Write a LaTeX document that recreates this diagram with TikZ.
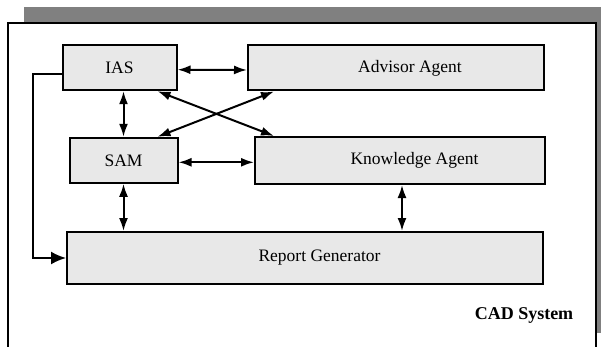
\documentclass[tikz,border=0pt]{standalone}
\usepackage{fontspec}
\setmainfont{Liberation Serif}
\usepackage{tikz}
\usetikzlibrary{calc,arrows.meta}

\definecolor{boxgray}{RGB}{232,232,232}
\definecolor{shadowgray}{RGB}{128,128,128}

\tikzset{
  agent/.style={draw, line width=2pt, fill=boxgray, inner sep=0pt,
    font=\fontsize{17.5}{20}\selectfont},
  link/.style={line width=2pt, {Latex[length=13pt,width=9pt]}-{Latex[length=13pt,width=9pt]}},
}

\begin{document}
\begin{tikzpicture}[x=1pt,y=-1pt]
                      \useasboundingbox (0,0) rectangle (601,347);
                      \clip (0,0) rectangle (601,347);
                      % frame of the system
                      \fill [shadowgray] (24,7) rectangle (601,333);
                      \draw [line width=2.3pt,fill=white] (8,23) rectangle (596,370);
                      % agents
                      \node [agent, minimum width=114pt, minimum height=45pt] (ias) at (119.5,67.7) {IAS};
                      \node [agent, minimum width=296pt, minimum height=45pt] (adv) at (396,68) {\hspace*{28pt}Advisor Agent};
                      \node [agent, minimum width=108pt, minimum height=45pt] (sam) at (123.5,160.3) {SAM};
                      \node [agent, minimum width=290pt, minimum height=47pt] (know) at (400,160.5) {\hspace*{29pt}Knowledge Agent};
                      \node [agent, minimum width=476pt, minimum height=52pt] (rep) at (305,258) {\hspace*{29pt}\raisebox{4pt}{Report Generator}};
                      \node [font=\fontsize{18}{20}\selectfont\bfseries] (cad) at (524,315) {CAD System};
                      % links
                      \draw [link] ([yshift=-2pt]ias.east) -- ([yshift=-2pt]adv.west);
                      \draw [link] (ias.south -| sam.north) -- (sam.north);
                      \draw [link] ([yshift=-2pt]sam.east) -- ([yshift=-2pt]sam.east -| know.west);
                      \draw [link] (sam.south) -- (sam.south |- rep.north);
                      \draw [link] ([xshift=2pt]know.south) -- ([xshift=2pt]know.south |- rep.north);
                      \draw [link] ([xshift=-20pt]ias.south east) -- ([xshift=20pt]know.north west);
                      \draw [link] ([xshift=-21pt]sam.north east) -- ([xshift=27pt]adv.south west);
                      \coordinate (bend) at (33,0);
                      \draw [line width=2pt, -{Latex[length=15pt,width=13pt]}] ([yshift=-6pt]ias.west) -| (bend |- rep.west) -- (rep.west);
                  \end{tikzpicture}
\end{document}
